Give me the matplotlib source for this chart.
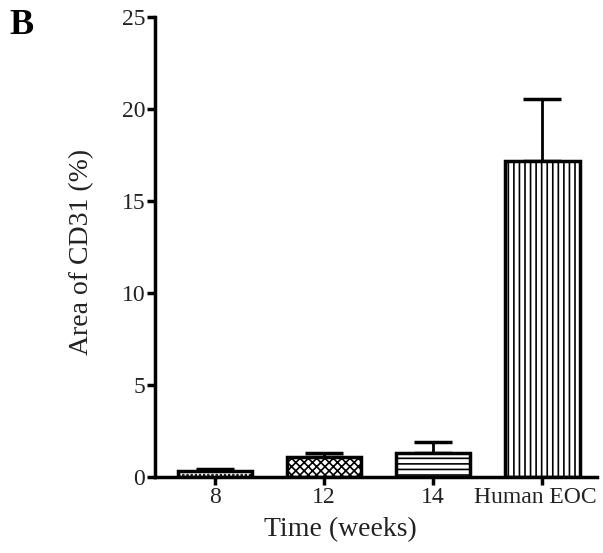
import matplotlib.pyplot as plt
import matplotlib.transforms as mtransforms
import numpy as np

GROUPS = ["8", "12", "14", "Human EOC"]
MEAN_AREA = [0.30, 1.08, 1.30, 17.2]
SEM_AREA = [0.13, 0.20, 0.60, 3.35]
HATCHES = ["....", "xxxx", "---", "|||"]

TEXT_COLOUR = "#222222"


def main() -> None:
    plt.rcParams["font.family"] = ["Liberation Serif", "DejaVu Serif"]
    plt.rcParams["hatch.linewidth"] = 1.2

    fig = plt.figure(figsize=(6.03, 5.53), dpi=100)
    ax = fig.add_axes([155 / 603, 1 - 477 / 553, 442 / 603, 460 / 553])

    x = np.arange(len(GROUPS))
    bars = ax.bar(
        x,
        MEAN_AREA,
        width=0.68,
        color="white",
        edgecolor="black",
        linewidth=2.5,
        zorder=2,
    )
    for bar, hatch in zip(bars, HATCHES):
        bar.set_hatch(hatch)

    ax.errorbar(
        x,
        MEAN_AREA,
        yerr=[np.zeros(len(SEM_AREA)), SEM_AREA],
        fmt="none",
        ecolor="black",
        elinewidth=2,
        capsize=14,
        capthick=2.5,
        zorder=1,
    )

    ax.set_xlim(-0.55, 3.5)
    ax.set_ylim(0, 25)
    ax.set_yticks([0, 5, 10, 15, 20, 25])
    ax.set_xticks(x, GROUPS)

    for side in ("top", "right"):
        ax.spines[side].set_visible(False)
    for side in ("left", "bottom"):
        ax.spines[side].set_linewidth(2.5)
    ax.tick_params(width=2.5, length=6, labelsize=17, direction="out",
                   pad=1, labelcolor=TEXT_COLOUR)

    # the last tick label sits a little left of its bar in the original
    shift = mtransforms.ScaledTranslation(-5 / 72, 0, fig.dpi_scale_trans)
    last = ax.get_xticklabels()[-1]
    last.set_transform(last.get_transform() + shift)

    ax.set_xlabel("Time (weeks)", fontsize=20, color=TEXT_COLOUR)
    ax.xaxis.set_label_coords((340 - 155) / 442, -(517 - 477) / 460)
    ax.set_ylabel("Area of CD31 (%)", fontsize=20, color=TEXT_COLOUR)
    ax.yaxis.set_label_coords(-(155 - 94) / 442, (477 - 252) / 460)

    fig.text(22 / 603, 1 - 26 / 553, "B", fontsize=26, fontweight="bold",
             va="center", ha="center")

    fig.savefig("out.png", dpi=100)
    plt.close(fig)


if __name__ == "__main__":
    main()
